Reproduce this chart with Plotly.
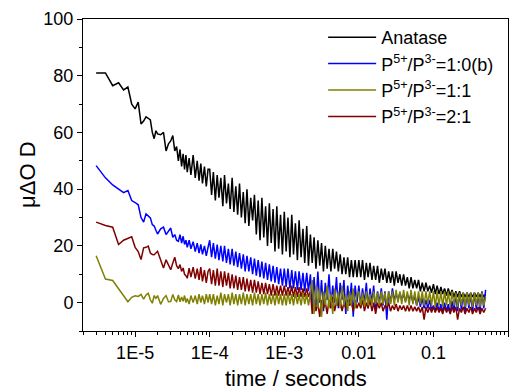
import math
import plotly.graph_objects as go

# ---- time grid (microseconds) ----
early_us = [3, 4, 5, 6, 7, 8, 9, 10, 11, 12, 13, 14, 15, 16, 17, 18, 19, 20,
            22, 24, 26, 28, 30, 32, 34, 36, 38, 40, 42, 44, 46, 48, 50,
            53, 56, 60, 64, 68, 72, 76, 80, 85, 90, 95]
mantissa_us = [100, 106, 112, 119, 126, 133, 141, 150, 158, 168, 178, 188, 200, 211,
               224, 237, 251, 266, 282, 299, 316, 335, 355, 376, 398, 422, 447, 473,
               501, 531, 562, 596, 631, 668, 708, 750, 794, 841, 891, 944]
times_us = (early_us + mantissa_us + [m * 10 for m in mantissa_us]
            + [m * 100 for m in mantissa_us] + [m * 1000 for m in mantissa_us[:29]])
time_s = [t * 1e-6 for t in times_us]

# ---- Anatase (black) ----
anatase_early = [81, 81, 76.5, 77.5, 75, 76, 70, 68.3, 70.7, 63, 64, 65.5, 65, 64.4, 60, 57.8, 60.6, 59.5,
                 59.2, 60, 53.5, 56, 57, 58.9, 53.5, 55, 50, 54, 48, 52.5, 47, 52, 46,
                 51, 45, 52, 44, 50, 43, 49, 42, 48, 41, 47]
anatase_d1 = [47, 38, 46, 36, 45, 37, 44, 34, 45, 35, 42, 33, 44, 32, 41, 31, 42, 30, 39, 28,
              40, 27, 37, 29, 38, 24, 36, 22, 37, 23, 34, 20, 35, 21, 33, 18, 34, 19, 31, 17]
anatase_d2 = [32, 18, 30, 16, 31, 17, 28, 15, 29, 16, 26, 14, 27, 13, 24, 14, 23, 12, 22, 13,
              21, 11, 20, 12, 19, 11, 19, 12, 18, 11, 17, 10, 16, 10, 16, 9, 15, 9, 15, 9]
anatase_d3 = [15, 9, 15, 8, 14, 9, 14, 8, 13, 8, 13, 7, 12, 8, 12, 7, 11, 7, 11, 6,
              11, 7, 10, 6, 10, 6, 9, 5, 9, 5, 8, 5, 8, 4, 7, 4, 7, 4, 6, 3.5]
anatase_d4 = [6.5, 3, 6, 3, 5.5, 3, 5, 2.5, 5, 2.5, 4.5, 2, 4, 2, 4, 2, 3.5, 2, 3.5, 2,
              3.5, 2, 3.5, 2, 3.5, 2, 3.5, 2, 3]

# ---- P5+/P3- = 1:0(b) (blue) ----
b10_early = [48.3, 44, 41.5, 40, 38.8, 39.5, 36, 35.3, 34.5, 30, 28.4, 31.3, 30.5, 29.9, 27.5, 27, 25.5, 24.2,
             26, 26.6, 24, 25, 26.3, 23, 24, 22, 21.6, 24, 21, 23.4, 20.5, 22, 19.5,
             22, 19, 21.5, 18, 21, 17.5, 20.5, 17, 20, 16.5, 19.5]
b10_d1 = [22, 16, 21, 15.5, 20.5, 15, 20, 14.5, 20, 14, 19, 13.5, 19, 13, 18, 12.5, 17.5, 12, 17, 11,
          16.5, 11, 16, 10, 15.5, 9.5, 15, 9, 14.5, 8.5, 14, 8, 13.5, 7.5, 13, 7, 12.5, 6.5, 12, 6]
b10_d2 = [12, 5.5, 12, 5, 11.5, 5, 11, 4.5, 11, 4.5, 10.5, 4, 10.5, 4, 10, -2, 9, -1, 11, 0,
          8, -3, 7, 1, 10, -1, 6, 0, 9, -2, 7, 1, 8, -4, 6, 0, 7, -5, 6, 0]
b10_d3 = [6, -1, 5, 0, 7, -2, 5, 0, 6, -3, 4, 0, 5, -1, 4, -6, 4, 0, 5, 1,
          3, 1, 3.5, 1, 3, 0.5, 3, 1, 3, 0, 2.5, -1, 2, -1.5, 1.5, -2, 1, -2, 1, -2.5]
b10_d4 = [-1, -3, 0, -3, -0.5, -3.5, 0, -3, -0.5, -3.5, 0.5, -3, 3, -3, 3.5, -2.5, 3, -3, 3.5, -2,
          3, -3, 3.5, -2.5, 3, -3, 4, -2, 4.5]

# ---- P5+/P3- = 1:1 (olive) ----
b11_early = [16.5, 8.3, 7.8, 5, 2.5, 0.3, 1.9, 2.4, 2.2, 2.9, 1.2, 2.7, 3.3, 1, -0.2, 2.5, 1.5, 2.5,
             -0.6, 1.5, 2.5, 0.3, 0.4, 2.9, 1, 0.4, 2.7, 0.3, 2, 0.5, 2.5, 0, 1.5,
             -0.5, 2.5, 0, 2.5, -0.5, 3, 0, 2.5, -0.5, 3, 0]
b11_d1 = [3, -0.5, 3, -1, 2.5, -0.5, 3.5, -1, 3, 0, 3, -1, 3.5, -0.5, 3, -1, 3, -0.5, 3.5, -1,
          3, -0.5, 3, -1, 3.5, -0.5, 3, -1, 3, -0.5, 3.5, -1, 3, -0.5, 3, -1, 3.5, -0.5, 3, -1]
b11_d2 = [3, -1, 3.5, -0.5, 3, -1, 3.5, -0.5, 3, -1, 3.5, -0.5, 3, -1, 3, 8, -4, 6, -2, 5,
          -5, 4, -1, 6, -2, 3, -4, 5, -1, 4, -2, 6, -1, 3, -3, 4, -1, 5, -2, 3]
b11_d3 = [4, -1, 3.5, -1.5, 4, -1, 3, -1, 4, -0.5, 3.5, -1, 4, -0.5, 3.5, -1, 4, -0.5, 4, -1,
          4.5, 0, 4, -0.5, 4.5, 0, 4, -1, 4.5, -0.5, 4, -1, 4, -0.5, 4, -1, 4, -0.5, 4, -1]
b11_d4 = [4, -1.5, 4, -1, 4, -1.5, 4, -1, 4, -1.5, 4, -1, 3.5, -1.5, 3.5, -1, 3.5, -1.5, 3.5, -1,
          3.5, -1.5, 3.5, -1, 3.5, -1.5, 3.5, -1, 2]

# ---- P5+/P3- = 2:1 (dark red) ----
b21_early = [28.4, 27.2, 26.6, 20.5, 22, 22.5, 23.2, 19.5, 18, 15.2, 19.3, 19.5, 19.9, 17.5, 17, 16.9, 17.5, 18.1,
             15, 12.2, 15.1, 13, 11.6, 14, 16, 13, 12, 13.4, 11, 12.2, 10, 9.5, 8.6,
             12.2, 9, 12.5, 8.5, 12, 8, 12.5, 7.5, 11.5, 7, 11]
b21_d1 = [12, 6.5, 11.5, 6, 12, 6, 11, 5.5, 11, 6, 10.5, 5, 10, 5, 9.5, 4.5, 9, 4.5, 9, 4,
          8.5, 4, 8, 3.5, 8, 3.5, 7.5, 3, 7, 3, 7, 3, 6.5, 2.5, 6.5, 2.5, 6, 2.5, 6, 2.5]
b21_d2 = [6, 2.5, 5.5, 2.5, 6, 2, 5.5, 2, 5.5, 2, 5, 2, 5, 2, 4, -4, 1, -3, 0, -5,
          1, -2, 0, -4, 1, -2, 2, -3, 0, -1, 1, -3, 0, -2, 1, -1, 0, -3, 1, -2]
b21_d3 = [0, -2, 1, -3, 0, -2, 1, -3, 0, -4, 0, -2, 0, -3, -1, -2, 0, -3, -1, -2.5,
          -0.5, -3, -1, -2.5, -1, -3, -1, -3, -1, -3, -1.5, -3, -1.5, -3.5, -1.5, -6, -1.5, -3.5, -1.5, -3.5]
b21_d4 = [-1.5, -3.5, -1.5, -3.5, -2, -4, -1.5, -3.5, -2, -4, -1.5, -3.5, -1.5, -6, -2, -3.5, -1.5, -4, -2, -3.5,
          -1.5, -4, -2, -3.5, -1.5, -4, -2, -3.5, -2]

anatase = anatase_early + anatase_d1 + anatase_d2 + anatase_d3 + anatase_d4
b10 = b10_early + b10_d1 + b10_d2 + b10_d3 + b10_d4
b11 = b11_early + b11_d1 + b11_d2 + b11_d3 + b11_d4
b21 = b21_early + b21_d1 + b21_d2 + b21_d3 + b21_d4

x_tick_vals = [1e-5, 1e-4, 1e-3, 1e-2, 1e-1, 1]
x_tick_text = ["1E-5", "1E-4", "1E-3", "0.01", "0.1", "1"]
x_minor_vals = [k * 10.0 ** e for e in range(-6, 0) for k in range(2, 10)]
y_tick_vals = [0, 20, 40, 60, 80, 100]
x_title = "time / seconds"
y_title = "μΔO D"

FONT = "Liberation Sans, Arial, sans-serif"

fig = go.Figure()
traces = [
    ("Anatase", anatase, "#000000", 1),
    ("P<sup>5+</sup>/P<sup>3-</sup>=1:0(b)", b10, "#0000FF", 2),
    ("P<sup>5+</sup>/P<sup>3-</sup>=2:1", b21, "#800000", 4),
    ("P<sup>5+</sup>/P<sup>3-</sup>=1:1", b11, "#808000", 3),
]
for name, ys, col, rank in traces:
    fig.add_trace(go.Scatter(x=time_s, y=ys, mode="lines", name=name,
                             line=dict(color=col, width=1.5), legendrank=rank))

fig.update_layout(
    width=512, height=392,
    margin=dict(l=83, r=4, t=19, b=61),
    paper_bgcolor="white", plot_bgcolor="white",
    font=dict(family=FONT, color="black", size=18),
    showlegend=True,
    legend=dict(x=0.565, y=1.0, xanchor="left", yanchor="top",
                bgcolor="rgba(0,0,0,0)", borderwidth=0,
                font=dict(family=FONT, size=18, color="black"),
                tracegroupgap=0, itemwidth=48),
    xaxis=dict(type="log", range=[math.log10(2e-6), 0],
               tickvals=x_tick_vals, ticktext=x_tick_text,
               ticks="outside", ticklen=5, tickwidth=1, tickcolor="black",
               showline=True, linecolor="black", linewidth=1, mirror=True,
               showgrid=False, zeroline=False,
               tickfont=dict(family=FONT, size=18),
               minor=dict(tickvals=x_minor_vals, ticks="outside", ticklen=3,
                          tickwidth=1, tickcolor="black", showgrid=False)),
    yaxis=dict(range=[-10, 100], tickvals=y_tick_vals,
               ticks="outside", ticklen=5, tickwidth=1, tickcolor="black",
               showline=True, linecolor="black", linewidth=1, mirror=True,
               showgrid=False, zeroline=False,
               tickfont=dict(family=FONT, size=18),
               minor=dict(tick0=-10, dtick=10, ticks="outside", ticklen=3,
                          tickwidth=1, tickcolor="black", showgrid=False)),
    annotations=[
        dict(text=x_title, xref="paper", yref="paper", x=0.5, y=-0.151,
             xanchor="center", yanchor="middle", showarrow=False,
             font=dict(family=FONT, size=22, color="black")),
        dict(text=y_title, xref="paper", yref="paper", x=-0.132, y=0.5,
             xanchor="center", yanchor="middle", showarrow=False, textangle=-90,
             font=dict(family=FONT, size=22, color="black")),
    ],
)

fig.write_html("out.html")
